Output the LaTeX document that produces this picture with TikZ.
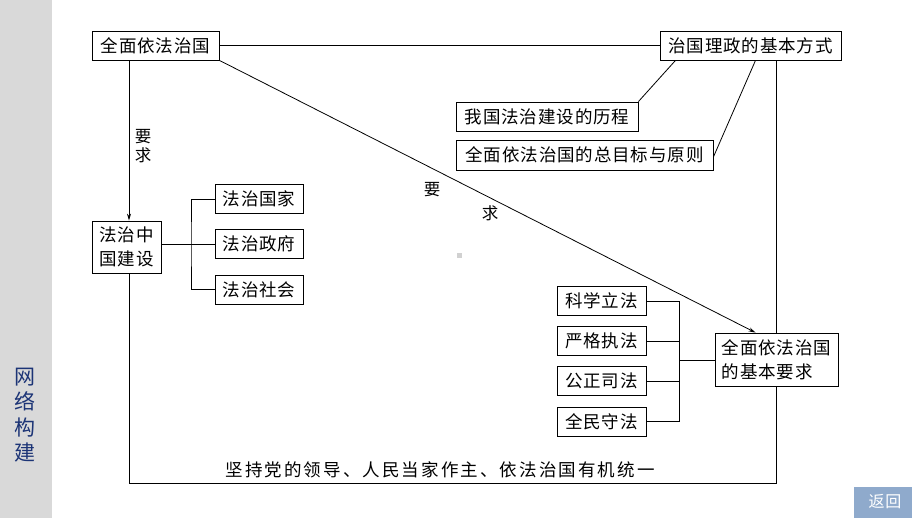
\documentclass[tikz,border=0pt]{standalone}
\usepackage{fontspec}
\setmainfont{Noto Sans CJK SC}[LetterSpace=5]
\usetikzlibrary{arrows.meta}
\definecolor{sidegray}{RGB}{217,217,217}
\definecolor{sidenavy}{RGB}{28,52,118}
\definecolor{backblue}{RGB}{143,170,204}
\tikzset{every node/.style={inner sep=0pt,font=\fontsize{17.5}{22}\selectfont},
  box/.style={draw,line width=0.8pt,minimum height=29pt,align=center},
  lbl/.style={font=\fontsize{16.5}{19}\selectfont,align=center}}

\begin{document}
\begin{tikzpicture}[x=1pt,y=-1pt,line width=0.8pt,>={Stealth[length=7pt,width=4pt]}]
      \useasboundingbox (0,0) rectangle (920,518);
      \fill[sidegray] (0,0) rectangle (52,518);
      \node[text=sidenavy,align=center,font=\fontsize{21}{25.5}\selectfont] (side) at (25,415) {网\\络\\构\\建};
      \fill[backblue] (854,487) rectangle (912,518);
      \node[text=white,font=\fontsize{16}{18}\selectfont] (back) at (885,502) {返回};
      \fill[black!18] (457,253) rectangle (462,258);

      \node[box,minimum width=127pt] (qm) at (155.5,45.5) {全面依法治国};
      \node[box,minimum width=181pt] (zlz) at (750.5,45.5) {治国理政的基本方式};
      \node[box,minimum width=182pt] (lc) at (547,116.5) {我国法治建设的历程};
      \node[box,minimum width=257pt,minimum height=30pt] (zmb) at (584.5,155) {全面依法治国的总目标与原则};
      \node[box,minimum width=69pt,minimum height=52pt,font=\fontsize{17.5}{24}\selectfont] (zgjs) at (126.5,247) {法治中\\国建设};
      \node[box,minimum width=88pt] (fz1) at (259,199) {法治国家};
      \node[box,minimum width=88pt] (fz2) at (259,244) {法治政府};
      \node[box,minimum width=88pt] (fz3) at (259,289.5) {法治社会};
      \node[box,minimum width=89pt] (kx1) at (601.5,301) {科学立法};
      \node[box,minimum width=89pt] (kx2) at (601.5,341) {严格执法};
      \node[box,minimum width=89pt] (kx3) at (601.5,381) {公正司法};
      \node[box,minimum width=89pt] (kx4) at (601.5,421.5) {全民守法};
      \node[box,minimum width=123pt,minimum height=53pt,align=left,font=\fontsize{17.5}{24}\selectfont] (yq) at (776.5,359.5) {全面依法治国\\的基本要求};
      \node[font=\fontsize{17.5}{22}\selectfont\addfontfeature{LetterSpace=12}] (tongyi) at (440,470) {坚持党的领导、人民当家作主、依法治国有机统一};

      \node[lbl,font=\fontsize{16.5}{18.5}\selectfont] (yq1) at (143,146) {要\\求};
      \node[lbl] (yao) at (432,190) {要};
      \node[lbl] (qiu) at (490,213) {求};

      \coordinate (bl) at (129,483);
      \coordinate (br) at (776.5,483);
      \coordinate (ja) at (191,244);
      \coordinate (jb) at (679,360);

\draw (qm) -- (zlz);
\draw[->] (qm.south -| bl) -- (zgjs.north -| bl);
\draw[->] (qm.south east) -- ([xshift=-21pt]yq.north);
\draw ([xshift=-75pt]zlz.south) -- (lc.north east);
\draw ([xshift=5pt]zlz.south) -- ([yshift=-2pt]zmb.east);
\draw (zlz.south -| yq.north) -- (yq.north);
\draw (yq.south) -- (br) -- (bl) -- (zgjs.south -| bl);
\draw (zgjs.east |- fz2) -- (fz2.west);
\draw (fz1.west) -| (ja) |- (fz3.west);
\draw (kx1.east) -| (jb) |- (kx4.east);
\foreach \a in {kx2,kx3}
  \draw (\a.east) -- (\a.east -| jb);
\draw (jb) -- (jb -| yq.west);
    \end{tikzpicture}
\end{document}
